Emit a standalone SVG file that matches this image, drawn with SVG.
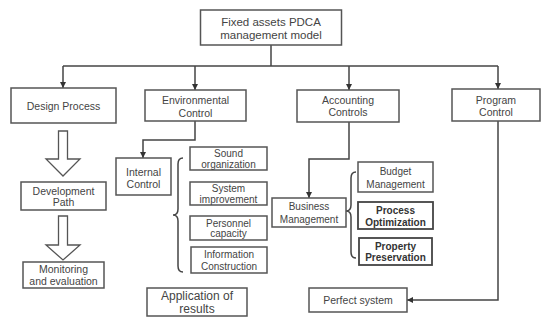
<svg xmlns="http://www.w3.org/2000/svg" width="543" height="320" viewBox="0 0 543 320">
<defs>
<marker id="ah" viewBox="0 0 10 10" refX="10" refY="5" markerWidth="6" markerHeight="6" orient="auto" markerUnits="userSpaceOnUse">
<path d="M0,0 L10,5 L0,10 z" fill="#333"/>
</marker>
<style>
.b{fill:#fff;stroke:#555;stroke-width:1.5}
.bb{fill:#fff;stroke:#444;stroke-width:1.8}
.t{font-family:"Liberation Sans",Arial,sans-serif;font-size:10.5px;fill:#444;text-anchor:middle}
.s{font-size:10px}
.bold{font-weight:bold;fill:#333}
.c{fill:none;stroke:#444;stroke-width:1.5}
.h{fill:#fff;stroke:#555;stroke-width:1.3}
</style>
</defs>
<rect width="543" height="320" fill="#fff"/>
<g id="connectors">
<path class="c" d="M271,45 V66"/>
<path class="c" d="M63,66 H498"/>
<path class="c" d="M63,66 V88" marker-end="url(#ah)"/>
<path class="c" d="M195,66 V90" marker-end="url(#ah)"/>
<path class="c" d="M349,66 V90" marker-end="url(#ah)"/>
<path class="c" d="M498,66 V89" marker-end="url(#ah)"/>
<path class="c" d="M195,121 V140 H143 V158" marker-end="url(#ah)"/>
<path class="c" d="M349,122 V159 H309 V198" marker-end="url(#ah)"/>
<path class="c" d="M498,121 V300 H407" marker-end="url(#ah)"/>
<polygon class="h" points="58.5,131 67.5,131 67.5,159 80,159 63,176 46,159 58.5,159"/>
<polygon class="h" points="58.5,216 67.5,216 67.5,245 80,245 63,260 46,245 58.5,245"/>
<path class="c" d="M183,158 Q178,158 178,164 L178,209 Q178,215 173,215 Q178,215 178,221 L178,266 Q178,272 183,272"/>
<path class="c" d="M356,172 Q351,172 351,178 L351,205 Q351,211 346,211 Q351,211 351,217 L351,252 Q351,258 356,258"/>
</g>
<g id="root">
<rect class="b" x="200.5" y="10" width="141" height="35"/>
<text class="t" x="271" y="26" style="font-size:11.5px">Fixed assets PDCA</text>
<text class="t" x="271" y="39" style="font-size:11.5px">management model</text>
</g>
<g id="design">
<rect class="b" x="11" y="88" width="105" height="35"/>
<text class="t" x="63.5" y="109.5">Design Process</text>
</g>
<g id="env">
<rect class="b" x="145" y="90" width="101" height="31"/>
<text class="t" x="195.5" y="104">Environmental</text>
<text class="t" x="195.5" y="116.5">Control</text>
</g>
<g id="acc">
<rect class="b" x="297" y="90" width="102" height="32"/>
<text class="t" x="348" y="103.5">Accounting</text>
<text class="t" x="348" y="116">Controls</text>
</g>
<g id="prog">
<rect class="b" x="452" y="89" width="88" height="32"/>
<text class="t" x="496" y="103.5">Program</text>
<text class="t" x="496" y="116">Control</text>
</g>
<g id="devpath">
<rect class="b" x="21" y="182" width="85" height="28"/>
<text class="t" x="63.5" y="194.5">Development</text>
<text class="t" x="63.5" y="205.5">Path</text>
</g>
<g id="monitor">
<rect class="b" x="23" y="262" width="81" height="26"/>
<text class="t" x="63.5" y="273">Monitoring</text>
<text class="t" x="63.5" y="285">and evaluation</text>
</g>
<g id="internal">
<rect class="b" x="116" y="158" width="55" height="37"/>
<text class="t" x="143.5" y="176">Internal</text>
<text class="t" x="143.5" y="187.5">Control</text>
</g>
<g id="sound">
<rect class="b" x="190" y="147" width="77" height="23"/>
<text class="t s" x="228.5" y="157">Sound</text>
<text class="t s" x="228.5" y="168">organization</text>
</g>
<g id="system">
<rect class="b" x="190" y="182" width="77" height="23"/>
<text class="t s" x="228.5" y="192">System</text>
<text class="t s" x="228.5" y="203">improvement</text>
</g>
<g id="personnel">
<rect class="b" x="190" y="216" width="77" height="24"/>
<text class="t s" x="228.5" y="226.5">Personnel</text>
<text class="t s" x="228.5" y="237">capacity</text>
</g>
<g id="info">
<rect class="b" x="191" y="247" width="76" height="26"/>
<text class="t s" x="229" y="258">Information</text>
<text class="t s" x="229" y="269.5">Construction</text>
</g>
<g id="application">
<rect class="b" x="147" y="288" width="100" height="28"/>
<text class="t" x="197" y="300" style="font-size:12px">Application of</text>
<text class="t" x="197" y="313" style="font-size:12px">results</text>
</g>
<g id="business">
<rect class="b" x="272" y="198" width="74" height="29"/>
<text class="t s" x="309" y="210">Business</text>
<text class="t s" x="309" y="222.5">Management</text>
</g>
<g id="budget">
<rect class="b" x="358" y="162" width="75" height="30"/>
<text class="t s" x="395.5" y="175">Budget</text>
<text class="t s" x="395.5" y="187.5">Management</text>
</g>
<g id="process">
<rect class="bb" x="358" y="202" width="75" height="27"/>
<text class="t s bold" x="395.5" y="213.5">Process</text>
<text class="t s bold" x="395.5" y="225.5">Optimization</text>
</g>
<g id="property">
<rect class="bb" x="359" y="238" width="73" height="27"/>
<text class="t s bold" x="395.5" y="249.5">Property</text>
<text class="t s bold" x="395.5" y="261">Preservation</text>
</g>
<g id="perfect">
<rect class="b" x="309" y="288" width="98" height="24"/>
<text class="t" x="358" y="304">Perfect system</text>
</g>
</svg>
